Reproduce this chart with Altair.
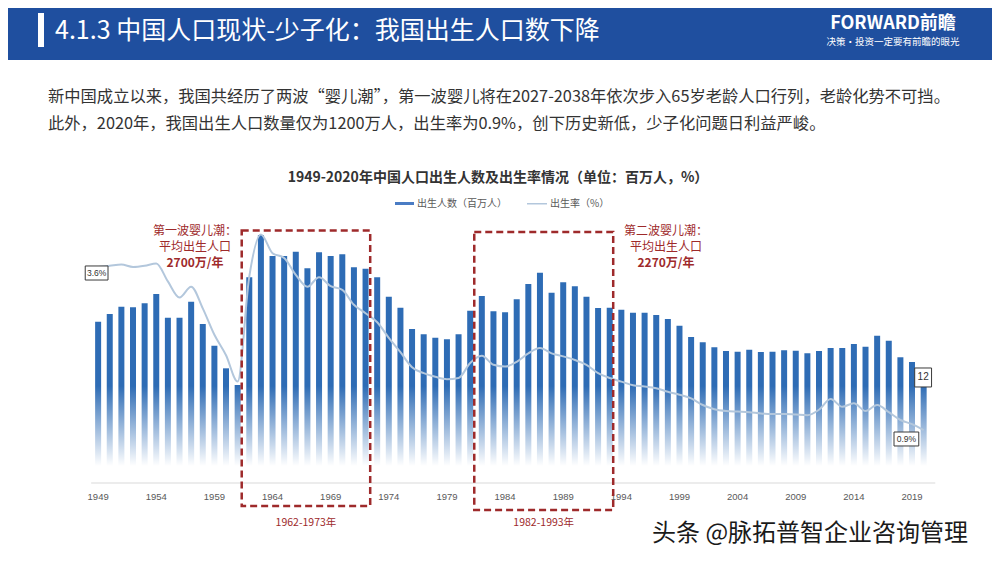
import altair as alt
import pandas as pd

# ---------------- data ----------------
years = list(range(1949, 2021))
births = [19.55, 20.48, 21.37, 21.30, 21.78, 22.91, 20.04, 20.04, 21.98, 19.27,
          16.64, 13.90, 11.88, 24.93, 30.06, 27.52, 27.52, 28.04, 26.02, 27.96,
          27.52, 27.72, 26.15, 25.98, 24.93, 22.58, 21.25, 18.67, 18.02, 17.61,
          17.42, 18.02, 20.88, 22.67, 20.81, 20.69, 22.27, 24.12, 25.49, 23.07,
          24.33, 23.84, 22.58, 21.21, 21.25, 21.00, 20.64, 20.64, 20.36, 19.88,
          19.07, 17.70, 17.05, 16.45, 16.00, 15.92, 16.16, 15.88, 15.92, 16.08,
          16.04, 15.72, 16.00, 16.36, 16.36, 16.85, 16.52, 17.85, 17.25, 15.24,
          14.67, 12.00]
rates = [3.60, 3.62, 3.64, 3.60, 3.62, 3.66, 3.36, 3.09, 3.27, 2.91,
         2.47, 2.13, 1.69, 3.44, 4.14, 3.83, 3.75, 3.47, 3.27, 3.43,
         3.28, 3.22, 2.97, 2.83, 2.68, 2.42, 2.18, 1.93, 1.83, 1.77,
         1.73, 1.75, 2.00, 2.12, 1.97, 1.94, 2.02, 2.16, 2.25, 2.16,
         2.11, 2.05, 1.97, 1.83, 1.75, 1.69, 1.63, 1.61, 1.58, 1.52,
         1.47, 1.41, 1.30, 1.23, 1.20, 1.19, 1.18, 1.16, 1.15, 1.15,
         1.14, 1.13, 1.22, 1.40, 1.27, 1.33, 1.20, 1.30, 1.18, 1.05,
         0.98, 0.88]
tick_years = list(range(1949, 2020, 5))
tick_labels = [str(y) for y in tick_years]

# baby-boom boxes (year spans, value spans) and their labels
boom_x1 = [1961.35, 1981.35]
boom_x2 = [1972.40, 1993.30]
boom_top = [30.6, 30.42]
boom_bottom = [-2.79, -3.27]
boom_ranges = ["1962-1973年", "1982-1993年"]

# value callouts
callout_text = ["3.6%", "0.9%"]
callout_x1 = [1947.89, 2017.45]
callout_x2 = [1949.85, 2019.58]
callout_hi = [3.617, 0.85]
callout_lo = [3.383, 0.617]
bar_callout = "12"

df = pd.DataFrame({"year": years, "births": births, "rate": rates})
ticks = pd.DataFrame({"year": tick_years, "label": tick_labels})
boxes = pd.DataFrame({"x1": boom_x1, "x2": boom_x2, "top": boom_top, "bottom": boom_bottom,
                      "label": boom_ranges, "xc": [(a + b) / 2 for a, b in zip(boom_x1, boom_x2)]})
callouts = pd.DataFrame({"label": callout_text, "x1": callout_x1, "x2": callout_x2,
                         "hi": callout_hi, "lo": callout_lo})
callouts["xc"] = (callouts.x1 + callouts.x2) / 2
callouts["yc"] = (callouts.hi + callouts.lo) / 2
bar_cb = pd.DataFrame({"label": [bar_callout], "x1": [2019.23], "x2": [2020.68],
                       "hi": [13.94], "lo": [11.64]})
bar_cb["xc"] = (bar_cb.x1 + bar_cb.x2) / 2
bar_cb["yc"] = (bar_cb.hi + bar_cb.lo) / 2
dummy = pd.DataFrame({"d": [0]})

# ---------------- geometry ----------------
W, H = 984, 544
OFF = 8
CJK = "Noto Sans CJK SC"
RED = "#9e2a2b"
BLUE = "#2e6cb5"
LINEC = "#b3c7dc"

k = (928 - 94) / 71.0
X0 = 1949 - (94 - OFF) / k
X1 = X0 + W / k
base = 483 - OFF
YB0, YB1 = -(H - base) / 8.25, base / 8.25
YR0, YR1 = -(H - base) / 60.0, base / 60.0

xs = alt.Scale(domain=[X0, X1], nice=False, zero=False)
ysb = alt.Scale(domain=[YB0, YB1], nice=False, zero=False)
ysr = alt.Scale(domain=[YR0, YR1], nice=False, zero=False)


def X(f):
    return alt.X(f, type="quantitative", scale=xs, axis=None)


def YB(f):
    return alt.Y(f, type="quantitative", scale=ysb, axis=None)


def YR(f):
    return alt.Y(f, type="quantitative", scale=ysr, axis=None)


def prect(x1, y1, x2, y2, color, **kw):
    return alt.Chart(dummy).mark_rect(color=color, **kw).encode(
        x=alt.value(x1 - OFF), x2=alt.value(x2 - OFF),
        y=alt.value(y1 - OFF), y2=alt.value(y2 - OFF))


def txt(s, px, py, size, color, weight="normal", align="left", font=CJK):
    return alt.Chart(dummy).mark_text(
        text=s, fontSize=size, color=color, fontWeight=weight, align=align,
        baseline="middle", font=font).encode(x=alt.value(px - OFF), y=alt.value(py - OFF))


layers = []
# header
layers.append(prect(0, 0, 1000, 60, "#1f4f9f"))
layers.append(prect(38, 13, 44, 47, "white"))
layers.append(txt("4.1.3 中国人口现状-少子化：我国出生人口数下降", 55, 31, 25, "white"))
layers.append(txt("FORWARD前瞻", 893, 24, 18, "white", weight="bold", align="center"))
layers.append(txt("决策·投资一定要有前瞻的眼光", 893, 42, 9.5, "white", align="center"))

# paragraph
layers.append(txt("新中国成立以来，我国共经历了两波“婴儿潮”，第一波婴儿将在2027-2038年依次步入65岁老龄人口行列，老龄化势不可挡。",
                  48, 97, 16.3, "#333333"))
layers.append(txt("此外，2020年，我国出生人口数量仅为1200万人，出生率为0.9%，创下历史新低，少子化问题日利益严峻。",
                  48, 124, 16.3, "#333333"))

# chart title & legend
layers.append(txt("1949-2020年中国人口出生人数及出生率情况（单位：百万人，%）", 498, 178, 14, "#333333",
                  weight="bold", align="center"))
layers.append(prect(395, 202, 414, 205, "#4a7cc4"))
layers.append(txt("出生人数（百万人）", 417, 204, 10, "#595959"))
layers.append(prect(527, 203, 547, 204.5, LINEC))
layers.append(txt("出生率（%）", 550, 204, 10, "#595959"))

# bars
layers.append(alt.Chart(df).mark_bar(size=6, color=BLUE).encode(
    x=X("year"), y=YB("births"), y2=alt.datum(0)))

# fade overlay
layers.append(alt.Chart(dummy).mark_rect(color={
    "gradient": "linear", "x1": 0, "x2": 0, "y1": 0, "y2": 1,
    "stops": [{"offset": 0, "color": "rgba(255,255,255,0)"},
              {"offset": 0.8, "color": "rgba(255,255,255,1)"},
              {"offset": 1, "color": "rgba(255,255,255,1)"}]}).encode(
    x=alt.value(70), x2=alt.value(950), y=alt.value(386 - OFF), y2=alt.value(486 - OFF)))

# x axis line + tick labels
axis_df = pd.DataFrame({"x1": [1948.4], "x2": [2021.0], "v": [0.0]})
layers.append(alt.Chart(axis_df).mark_rule(color="#d9d9d9", strokeWidth=1).encode(
    x=X("x1"), x2=alt.X2("x2"), y=YB("v")))
layers.append(alt.Chart(ticks).mark_text(fontSize=9.5, color="#595959",
                                         font="Liberation Sans Narrow, Liberation Sans").encode(
    x=X("year"), y=alt.value(497 - OFF), text="label:N"))

# rate line
layers.append(alt.Chart(df).mark_line(color=LINEC, strokeWidth=2, interpolate="monotone").encode(
    x=X("year"), y=YR("rate")))

# dashed boxes
layers.append(alt.Chart(boxes).mark_rect(fillOpacity=0, stroke=RED, strokeWidth=2.5,
                                         strokeDash=[7, 4]).encode(
    x=X("x1"), x2=alt.X2("x2"), y=YB("top"), y2=alt.Y2("bottom")))
layers.append(alt.Chart(boxes).mark_text(fontSize=10.5, color=RED, font=CJK).encode(
    x=X("xc"), y=alt.value(523 - OFF), text="label:N"))

# boom annotations
for cx, lines in [(195, ["第一波婴儿潮：", "平均出生人口", "2700万/年"]),
                  (666, ["第二波婴儿潮：", "平均出生人口", "2270万/年"])]:
    layers.append(txt(lines[0], cx, 231, 12, RED, align="center"))
    layers.append(txt(lines[1], cx, 247, 12, RED, align="center"))
    layers.append(txt(lines[2], cx, 263, 12, RED, weight="bold", align="center"))

# callouts
layers.append(alt.Chart(callouts).mark_rect(fill="white", stroke="#3a3a3a", strokeWidth=1).encode(
    x=X("x1"), x2=alt.X2("x2"), y=YR("hi"), y2=alt.Y2("lo")))
layers.append(alt.Chart(callouts).mark_text(fontSize=8.5, color="#333333",
                                            font="Liberation Sans").encode(
    x=X("xc"), y=YR("yc"), text="label:N"))
layers.append(alt.Chart(bar_cb).mark_rect(fill="white", stroke="#3a3a3a", strokeWidth=1).encode(
    x=X("x1"), x2=alt.X2("x2"), y=YB("hi"), y2=alt.Y2("lo")))
layers.append(alt.Chart(bar_cb).mark_text(fontSize=10, color="#333333",
                                          font="Liberation Sans").encode(
    x=X("xc"), y=YB("yc"), text="label:N"))

# watermark
layers.append(txt("头条 @脉拓普智企业咨询管理", 652, 534, 24, "#1a1a1a"))

chart = alt.layer(*layers).resolve_scale(y="independent").properties(
    width=W, height=H, padding=0, autosize=alt.AutoSizeParams(type="none"),
    background="white").configure_view(stroke=None)

chart.save("out.html", embed_options={"renderer": "svg", "actions": False})
